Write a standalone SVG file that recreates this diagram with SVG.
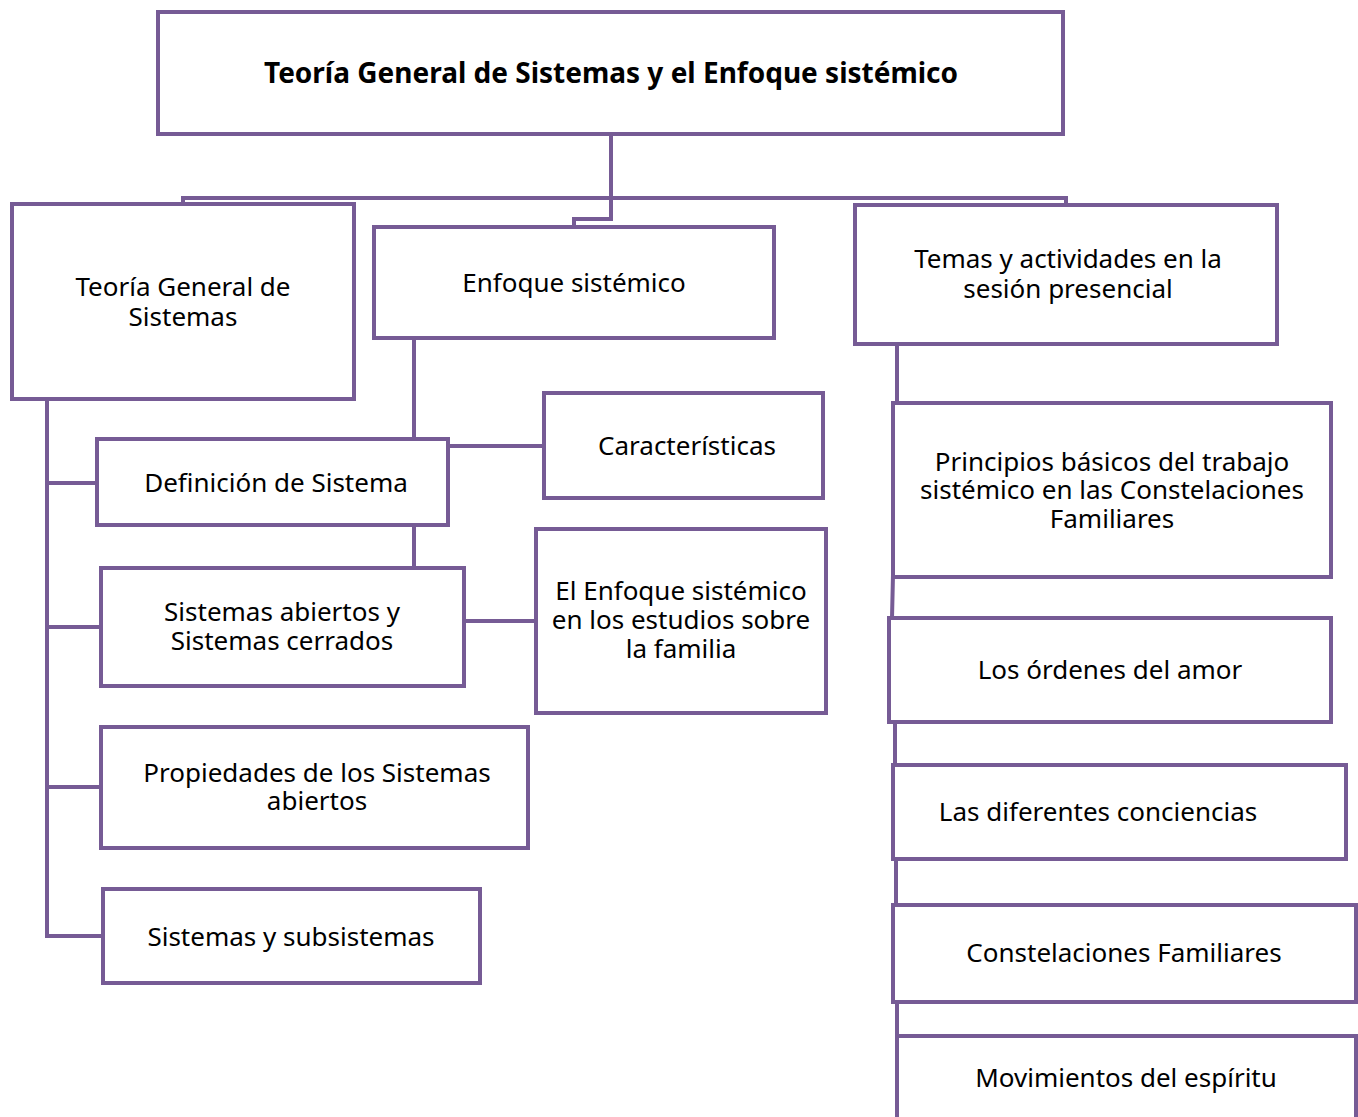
<svg xmlns="http://www.w3.org/2000/svg" width="1358" height="1117" viewBox="0 0 1358 1117">
<style>
.box{fill:#fff;stroke:#765b95;stroke-width:4}
.ln{fill:none;stroke:#765b95;stroke-width:4;stroke-linejoin:miter}
text{font-family:"Noto Sans","Open Sans",sans-serif;font-size:26px;fill:#000;text-anchor:middle}
.t{font-size:28px;font-weight:bold}
</style>
<rect width="1358" height="1117" fill="#fff"/>
<g id="connectors">
<path class="ln" d="M611,134 V219 H574 V227"/>
<path class="ln" d="M183,204 V198 H1066 V205"/>
<path class="ln" d="M47,399 V936 H103 M47,483 H97 M47,627 H101 M47,787 H101"/>
<path class="ln" d="M414,338 V439 M414,525 V568 M448,446 H544 M464,621 H536"/>
<path class="ln" d="M897,344 V403 L892,618 M895,722 V765 M896,859 V905 M897,1002 V1117"/>
</g>
<g id="n-title"><rect class="box" x="158" y="12" width="905" height="122"/><text class="t" x="611" y="83">Teoría General de Sistemas y el Enfoque sistémico</text></g>
<g id="n-tgs"><rect class="box" x="12" y="204" width="342" height="195"/><text x="183" y="296">Teoría General de</text><text x="183" y="326">Sistemas</text></g>
<g id="n-enf"><rect class="box" x="374" y="227" width="400" height="111"/><text x="574" y="292">Enfoque sistémico</text></g>
<g id="n-temas"><rect class="box" x="855" y="205" width="422" height="139"/><text x="1068" y="268">Temas y actividades en la</text><text x="1068" y="298">sesión presencial</text></g>
<g id="n-def"><rect class="box" x="97" y="439" width="351" height="86"/><text x="276" y="492">Definición de Sistema</text></g>
<g id="n-car"><rect class="box" x="544" y="393" width="279" height="105"/><text x="687" y="455">Características</text></g>
<g id="n-abi"><rect class="box" x="101" y="568" width="363" height="118"/><text x="282" y="621">Sistemas abiertos y</text><text x="282" y="650">Sistemas cerrados</text></g>
<g id="n-efam"><rect class="box" x="536" y="529" width="290" height="184"/><text x="681" y="600">El Enfoque sistémico</text><text x="681" y="629">en los estudios sobre</text><text x="681" y="658">la familia</text></g>
<g id="n-prop"><rect class="box" x="101" y="727" width="427" height="121"/><text x="317" y="782">Propiedades de los Sistemas</text><text x="317" y="810">abiertos</text></g>
<g id="n-sub"><rect class="box" x="103" y="889" width="377" height="94"/><text x="291" y="946">Sistemas y subsistemas</text></g>
<g id="n-princ"><rect class="box" x="893" y="403" width="438" height="174"/><text x="1112" y="471">Principios básicos del trabajo</text><text x="1112" y="499">sistémico en las Constelaciones</text><text x="1112" y="528">Familiares</text></g>
<g id="n-ord"><rect class="box" x="889" y="618" width="442" height="104"/><text x="1110" y="679">Los órdenes del amor</text></g>
<g id="n-conc"><rect class="box" x="893" y="765" width="453" height="94"/><text x="1098" y="821">Las diferentes conciencias</text></g>
<g id="n-const"><rect class="box" x="893" y="905" width="463" height="97"/><text x="1124" y="962">Constelaciones Familiares</text></g>
<g id="n-mov"><rect class="box" x="897" y="1036" width="459" height="100"/><text x="1126" y="1087">Movimientos del espíritu</text></g>
</svg>
